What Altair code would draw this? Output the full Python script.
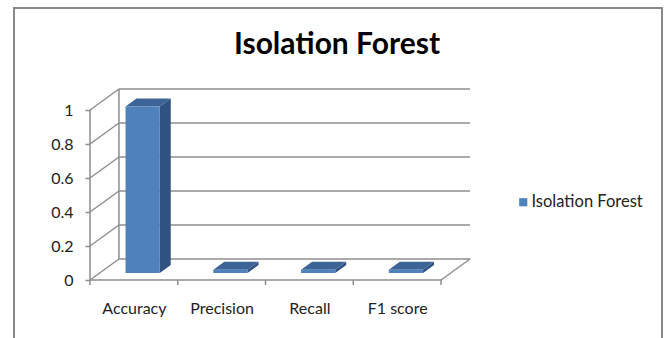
import altair as alt
import pandas as pd

# Scores for each metric
metrics = ["Accuracy", "Precision", "Recall", "F1 score"]
scores = [0.98, 0.02, 0.02, 0.02]
series_name = "Isolation Forest"
y_ticks = [0, 0.2, 0.4, 0.6, 0.8, 1.0]

# Oblique 3-D projection (x in category widths, y in value units)
WALL_DX, WALL_DY = 0.33, 0.1235      # depth of floor / side wall
BAR_DX, BAR_DY = 0.125, 0.047        # depth of each column
SHIFT_X, SHIFT_Y = 0.10, 0.041       # columns sit a third of the way back
BAR_W = 0.39
N = len(metrics)
X_MAX = N + WALL_DX
Y_MAX = 1.1765

FRONT, SIDE, TOP = "#4F81BD", "#30527F", "#3C6497"
GRID = "#8E8E8E"
FONT = "Lato"
TEXT = "#222222"

xs = alt.Scale(domain=[0, X_MAX], nice=False, zero=False)
ys = alt.Scale(domain=[0, Y_MAX], nice=False, zero=False)

label_expr = "[" + ",".join(f"'{m}'" for m in metrics) + "][floor(datum.value)]"
x_axis = alt.Axis(
    values=[i + 0.5 for i in range(N)], labelExpr=label_expr,
    ticks=False, domain=False, grid=False, title=None,
    labelFont=FONT, labelFontSize=16, labelColor=TEXT, labelPadding=20)
y_axis = alt.Axis(
    values=y_ticks, format="~g", tickSize=5, tickColor=GRID, tickWidth=1.5,
    domain=False, grid=False, title=None,
    labelFont=FONT, labelFontSize=16, labelColor=TEXT, labelPadding=12)

# ---- column faces ----
front = pd.DataFrame({
    "metric": metrics,
    "series": series_name,
    "x0": [i + 0.5 - BAR_W / 2 + SHIFT_X for i in range(N)],
    "x1": [i + 0.5 + BAR_W / 2 + SHIFT_X for i in range(N)],
    "y0": [SHIFT_Y] * N,
    "y1": [SHIFT_Y + s for s in scores],
})

side_rows, top_rows = [], []
for m, x0, x1, s in zip(metrics, front["x0"], front["x1"], scores):
    top = SHIFT_Y + s
    side_rows += [
        {"metric": m, "x": x1, "lo": SHIFT_Y, "hi": top},
        {"metric": m, "x": x1 + BAR_DX, "lo": SHIFT_Y + BAR_DY, "hi": top + BAR_DY},
    ]
    top_rows += [
        {"metric": m, "y": top, "xa": x0, "xb": x1},
        {"metric": m, "y": top + BAR_DY, "xa": x0 + BAR_DX, "xb": x1 + BAR_DX},
    ]
side = pd.DataFrame(side_rows)
topf = pd.DataFrame(top_rows)

# ---- walls, floor and gridlines as line segments ----
seg = []
for v in y_ticks:
    seg.append({"x": WALL_DX, "x2": N + WALL_DX, "y": v + WALL_DY, "y2": v + WALL_DY})  # back wall
    seg.append({"x": 0, "x2": WALL_DX, "y": v, "y2": v + WALL_DY})                      # side wall
seg.append({"x": WALL_DX, "x2": WALL_DX, "y": WALL_DY, "y2": max(y_ticks) + WALL_DY})   # wall corner
seg.append({"x": 0, "x2": 0, "y": 0, "y2": max(y_ticks)})                               # value axis
seg.append({"x": 0, "x2": N, "y": 0, "y2": 0})                                          # floor front
seg.append({"x": N, "x2": N + WALL_DX, "y": 0, "y2": WALL_DY})                          # floor side
for k in range(N + 1):
    seg.append({"x": k, "x2": k, "y": 0, "y2": -0.03})                                  # category ticks
segments = pd.DataFrame(seg)

grid = alt.Chart(segments).mark_rule(color=GRID, strokeWidth=1.5).encode(
    x=alt.X("x:Q", scale=xs, axis=x_axis),
    x2="x2:Q",
    y=alt.Y("y:Q", scale=ys, axis=y_axis),
    y2="y2:Q",
)

side_layer = alt.Chart(side).mark_area(color=SIDE, orient="vertical").encode(
    x=alt.X("x:Q", scale=xs, axis=x_axis),
    y=alt.Y("lo:Q", scale=ys, axis=y_axis),
    y2="hi:Q",
    detail="metric:N",
)

top_layer = alt.Chart(topf).mark_area(color=TOP, orient="horizontal").encode(
    y=alt.Y("y:Q", scale=ys, axis=y_axis),
    x=alt.X("xa:Q", scale=xs, axis=x_axis),
    x2="xb:Q",
    detail="metric:N",
)

front_layer = alt.Chart(front).mark_rect().encode(
    x=alt.X("x0:Q", scale=xs, axis=x_axis),
    x2="x1:Q",
    y=alt.Y("y0:Q", scale=ys, axis=y_axis),
    y2="y1:Q",
    color=alt.Color("series:N", scale=alt.Scale(domain=[series_name], range=[FRONT]),
                    legend=alt.Legend(title=None, orient="none", legendX=425, legendY=114,
                                      symbolType="square", symbolSize=66, symbolStrokeWidth=0,
                                      labelOffset=0, labelFont=FONT, labelFontSize=16.5,
                                      labelColor=TEXT, padding=0)),
)

# chart-area frame
frame = alt.Chart(pd.DataFrame({"k": [0]})).mark_rect(
    fill=None, stroke="#8A8A8A", strokeWidth=2
).encode(x=alt.value(-76), x2=alt.value(572), y=alt.value(-72), y2=alt.value(320))

chart = alt.layer(grid, side_layer, top_layer, front_layer, frame).properties(
    width=380, height=200,
    title=alt.TitleParams(series_name, font=FONT, fontSize=30, fontWeight="bold",
                          color="#000000", anchor="middle", frame="group", dx=57, offset=-53),
    autosize=alt.AutoSizeParams(type="none"),
    padding={"left": 90, "top": 80, "right": 194, "bottom": 58},
).configure_view(stroke=None)

chart.save("out.html", embed_options={"renderer": "svg", "actions": False})
